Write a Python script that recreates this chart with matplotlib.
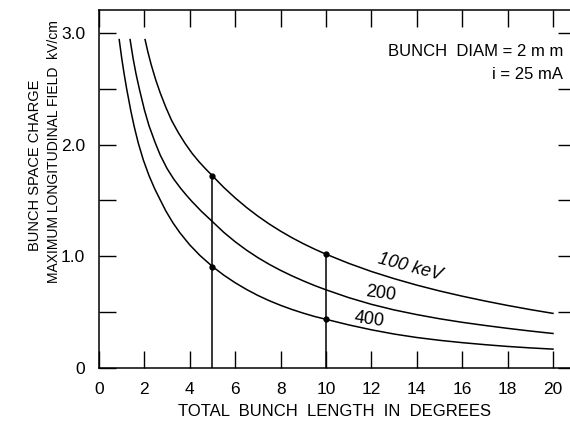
import matplotlib
matplotlib.use('Agg')
import matplotlib.pyplot as plt

# values
x_100 = [2.03, 2.15, 2.3, 2.5, 2.7, 2.95, 3.2, 3.5, 3.8, 4.1, 4.4, 4.7, 5.0, 5.5, 6.0, 6.5, 7.0,
         7.5, 8.0, 8.5, 9.0, 9.5, 10, 11, 12, 13, 14, 15, 16, 17, 18, 19, 20]
y_100 = [2.94, 2.832, 2.715, 2.579, 2.461, 2.331, 2.216, 2.105, 2.008, 1.922, 1.848, 1.782, 1.72,
         1.616, 1.5225, 1.437, 1.3595, 1.289, 1.225, 1.1665, 1.113, 1.064, 1.019, 0.937, 0.864,
         0.80, 0.742, 0.69, 0.643, 0.60, 0.56, 0.523, 0.489]

x_200 = [1.37, 1.5, 1.63, 1.78, 2.0, 2.2, 2.47, 2.7, 3.0, 3.3, 3.6, 3.85, 4.08, 4.5, 5.0, 5.5, 6.0,
         6.5, 7.0, 7.5, 8.0, 8.5, 9.0, 9.5, 10, 11, 12, 13, 14, 15, 16, 17, 18, 19, 20]
y_200 = [2.94, 2.774, 2.634, 2.496, 2.311, 2.171, 2.02, 1.905, 1.785, 1.689, 1.608, 1.547, 1.494,
         1.405, 1.31, 1.214, 1.13, 1.055, 0.988, 0.928, 0.874, 0.825, 0.78, 0.738, 0.70, 0.63,
         0.57, 0.52, 0.478, 0.441, 0.409, 0.381, 0.355, 0.331, 0.309]

x_400 = [0.89, 1.0, 1.1, 1.22, 1.4, 1.55, 1.73, 1.95, 2.2, 2.45, 2.69, 2.95, 3.25, 3.57, 4.0, 4.45,
         5.0, 5.5, 6.0, 6.5, 7.0, 7.5, 8.0, 8.5, 9.0, 9.5, 10, 11, 12, 13, 14, 15, 16, 17, 18, 19, 20]
y_400 = [2.94, 2.775, 2.642, 2.498, 2.304, 2.162, 2.014, 1.864, 1.724, 1.606, 1.508, 1.404, 1.302,
         1.209, 1.1015, 1.007, 0.908, 0.831, 0.763, 0.703, 0.6495, 0.6025, 0.561, 0.524, 0.491,
         0.461, 0.436, 0.386, 0.342, 0.304, 0.273, 0.248, 0.227, 0.209, 0.193, 0.18, 0.169]

# vertical guide lines and dots
guide_x = [5, 10]
guide_top = [1.72, 1.019]
dot_x = [5, 5, 10, 10]
dot_y = [1.72, 0.908, 1.019, 0.436]

curve_labels = ['100 keV', '200', '400']
label_x = [13.7, 12.4, 11.9]
label_y = [0.90, 0.665, 0.43]
label_rot = [-15, -8, -8]
label_style = ['italic', 'normal', 'normal']

xticks = list(range(0, 21, 2))
yticks = [0, 0.5, 1.0, 1.5, 2.0, 2.5, 3.0]
ytick_labels = ['0', '', '1.0', '', '2.0', '', '3.0']

plt.rcParams['font.family'] = ['Liberation Sans', 'DejaVu Sans']

fig = plt.figure(figsize=(5.70, 4.26), dpi=100)
ax = fig.add_axes([99 / 570, 1 - 368 / 426, 1 - 99 / 570, (368 - 10) / 426])

for xs, ys in [(x_100, y_100), (x_200, y_200), (x_400, y_400)]:
    ax.plot(xs, ys, color='black', lw=1.1)

ax.vlines(guide_x, 0, guide_top, color='black', lw=1.1)
ax.plot(dot_x, dot_y, 'o', color='black', ms=3.5)

for t, lx, ly, r, st in zip(curve_labels, label_x, label_y, label_rot, label_style):
    ax.text(lx, ly, t, rotation=r, ha='center', va='center', fontsize=13, style=st)

ax.text(0.985, 0.885, 'BUNCH  DIAM = 2 m m', transform=ax.transAxes,
        ha='right', va='center', fontsize=12)
ax.text(0.985, 0.82, 'i = 25 mA', transform=ax.transAxes,
        ha='right', va='center', fontsize=12)

ax.set_xlim(0, 20.75)
ax.set_ylim(0, 3.205)
ax.set_xticks(xticks)
ax.set_yticks(yticks)
ax.set_yticklabels(ytick_labels)
ax.tick_params(direction='in', length=12, width=1, labelsize=12.5,
               top=True, right=True)
ax.tick_params(axis='x', pad=10)
ax.tick_params(axis='y', pad=10)
for t in ax.yaxis.get_major_ticks():
    t.tick2line.set_markersize(8.5)
ax.spines['right'].set_visible(False)
for s in ['left', 'bottom', 'top']:
    ax.spines[s].set_linewidth(1.1)

ax.set_xlabel('TOTAL  BUNCH  LENGTH  IN  DEGREES', fontsize=12, labelpad=5)
fig.text(35 / 570, 1 - 165 / 426, 'BUNCH SPACE CHARGE', rotation=90,
         ha='center', va='center', fontsize=10.5)
fig.text(54 / 570, 1 - 152 / 426, 'MAXIMUM LONGITUDINAL FIELD  kV/cm', rotation=90,
         ha='center', va='center', fontsize=10)

fig.savefig('out.png', dpi=100)
